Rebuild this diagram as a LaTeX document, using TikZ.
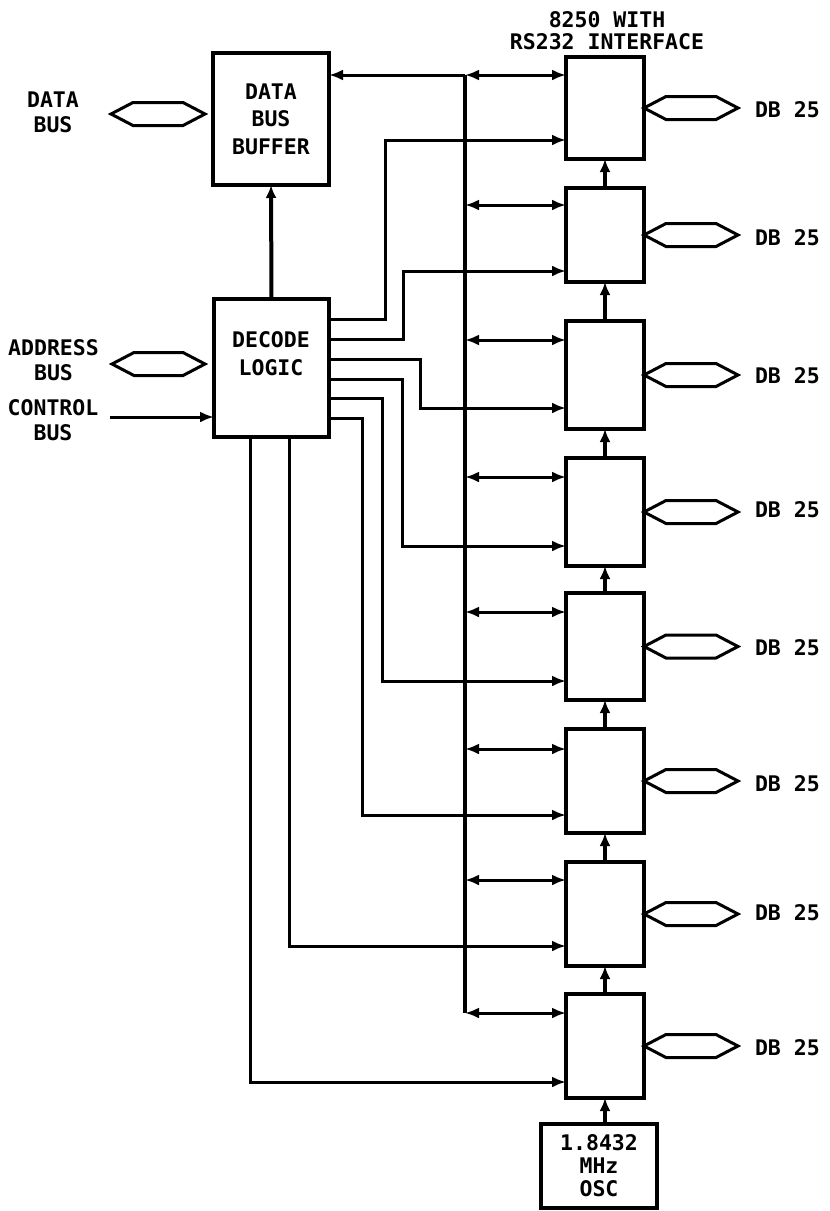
\documentclass[tikz,border=0pt]{standalone}
\usepackage{fontspec}
\setmainfont{DejaVu Sans Mono}
\usetikzlibrary{arrows.meta}
\newcommand\hbus[2]{% start coordinate, middle length
  \draw[hollow] (#1) -- ++(22,-11.5) -- ++(#2,0) -- ++(22,11.5) -- ++(-22,11.5) -- ++(-#2,0) -- cycle;}
\begin{document}
\begin{tikzpicture}[x=1pt,y=-1pt,
  every node/.style={font=\fontsize{21.5}{25}\selectfont\bfseries, inner sep=0pt, outer sep=0pt},
  blk/.style={draw, line width=3.4pt, minimum width=78pt},
  wire/.style={line width=3pt, -{Latex[length=14pt,width=11pt]}},
  bi/.style={line width=3pt, {Latex[length=14pt,width=11pt]}-{Latex[length=14pt,width=11pt]}},
  chain/.style={line width=4pt, -{Latex[length=13pt,width=11pt]}},
  hollow/.style={line width=3pt, line join=miter},
  lbl/.style={align=center}
]
\useasboundingbox (0,0) rectangle (830,1211);

% left blocks
\node[blk, lbl, minimum width=116pt, minimum height=132pt, font=\fontsize{21.5}{27.5}\selectfont\bfseries] (buf) at (271,119) {DATA\\BUS\\BUFFER};
\node[blk, minimum width=115pt, minimum height=138pt] (dec) at (271.5,368) {};
\node[lbl, font=\fontsize{21.5}{28}\selectfont\bfseries] (decT) at (271,354) {DECODE\\LOGIC};

% left labels
\node[lbl] (dataL) at (53,112) {DATA\\BUS};
\node[lbl] (addrL) at (53.5,360) {ADDRESS\\BUS};
\node[lbl] (ctrlL) at (53,420) {CONTROL\\BUS};
\node[lbl, font=\fontsize{21.5}{22}\selectfont\bfseries] (topL) at (607,31) {8250 WITH\\RS232 INTERFACE};

% 8250 boxes
\node[blk, minimum height=102pt] (b1) at (605,108) {};
\node[blk, minimum height=94pt]  (b2) at (605,235) {};
\node[blk, minimum height=108pt] (b3) at (605,375) {};
\node[blk, minimum height=108pt] (b4) at (605,512) {};
\node[blk, minimum height=107pt] (b5) at (605,646.5) {};
\node[blk, minimum height=104pt] (b6) at (605,781) {};
\node[blk, minimum height=104pt] (b7) at (605,914) {};
\node[blk, minimum height=104pt] (b8) at (605,1046) {};
\node[blk, lbl, minimum width=116pt, minimum height=84pt, font=\fontsize{21.5}{23}\selectfont\bfseries] (osc) at (599,1166) {1.8432\\MHz\\OSC};

% DB 25 labels
\foreach \i/\y in {1/110,2/238,3/376,4/510,5/648,6/784,7/913,8/1048}{
  \node[anchor=west] (db\i) at (755,\y) {DB 25};
}

% hollow bus arrows
\coordinate (dbs) at (111,114);
\coordinate (abs) at (112,364);
\hbus{dbs}{50}
\hbus{abs}{49}
\foreach \i in {1,...,8}{ \hbus{b\i.east}{50} }

% control bus
\coordinate (cb) at (110,417);
\draw[wire] (cb) -- (dec.west |- cb);

% decode to buffer
\draw[chain] (dec.north) -- (buf.south);

% system bus
\coordinate (t1) at (465,75);
\coordinate (t2) at (465,205);
\coordinate (t3) at (465,340);
\coordinate (t4) at (465,477);
\coordinate (t5) at (465,612);
\coordinate (t6) at (465,749);
\coordinate (t7) at (465,880);
\coordinate (t8) at (465,1013);
\draw[line width=4.5pt] (t1) -- (t8);
\draw[wire] (t1) -- (buf.east |- t1);
\foreach \i in {1,...,8}{ \draw[bi] (t\i) -- (b\i.west |- t\i); }

% decode outputs
\draw[wire] (dec.east |- 0,319) -| (385,140) -- (b1.west |- 0,140);
\draw[wire] (dec.east |- 0,339) -| (403,271) -- (b2.west |- 0,271);
\draw[wire] (dec.east |- 0,359) -| (420,408) -- (b3.west |- 0,408);
\draw[wire] (dec.east |- 0,379) -| (402,546) -- (b4.west |- 0,546);
\draw[wire] (dec.east |- 0,398) -| (382,681) -- (b5.west |- 0,681);
\draw[wire] (dec.east |- 0,418) -| (362,815) -- (b6.west |- 0,815);
\draw[wire] (dec.south -| 289,0) |- (b7.west |- 0,946);
\draw[wire] (dec.south -| 250,0) |- (b8.west |- 0,1082);

% clock chain
\draw[chain] (osc.north -| b8.south) -- (b8.south);
\draw[chain] (b8.north) -- (b7.south);
\draw[chain] (b7.north) -- (b6.south);
\draw[chain] (b6.north) -- (b5.south);
\draw[chain] (b5.north) -- (b4.south);
\draw[chain] (b4.north) -- (b3.south);
\draw[chain] (b3.north) -- (b2.south);
\draw[chain] (b2.north) -- (b1.south);
\end{tikzpicture}
\end{document}
